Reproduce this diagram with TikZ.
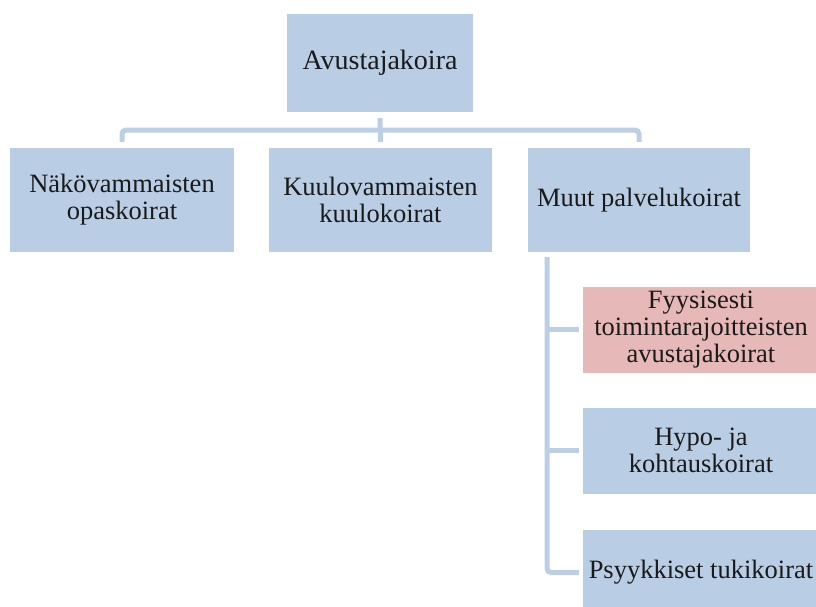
\documentclass[tikz,border=0pt]{standalone}
\usepackage{fontspec}
\setmainfont{Liberation Serif}
\definecolor{boxblue}{HTML}{B9CDE5}
\definecolor{boxpink}{HTML}{E6B9B8}
\definecolor{linec}{HTML}{BCCFE6}
\definecolor{txt}{HTML}{1A1A1A}
\begin{document}
\begin{tikzpicture}[x=1pt,y=-1pt,
  box/.style={rectangle, fill=boxblue, draw=none, inner sep=0pt, align=center, text=txt,
    font=\fontsize{26.5}{27}\selectfont},
  lvl1/.style={box, minimum width=224pt, minimum height=104pt},
  child/.style={box, minimum width=236pt, minimum height=86pt},
  conn/.style={draw=linec, line width=5pt}]
\path[use as bounding box, clip] (0,0) rectangle (816,606);
\node[box, minimum width=186pt, minimum height=98pt, font=\fontsize{28}{28}\selectfont] (top) at (380,63) {Avustajakoira};
\node[lvl1] (b1) at (122,200) {Näkövammaisten\\opaskoirat};
\node[lvl1, minimum width=223pt] (b2) at (380.5,200) {Kuulovammaisten\\kuulokoirat};
\node[lvl1, minimum width=222pt] (b3) at (639,200) {Muut palvelukoirat};
\node[child, fill=boxpink] (c1) at (701,329.5) {Fyysisesti\\toimintarajoitteisten\\avustajakoirat};
\node[child] (c2) at (701,450.5) {Hypo- ja\\kohtauskoirat};
\node[child] (c3) at (701,572.5) {Psyykkiset tukikoirat};
\coordinate (bus) at (380,130);
\coordinate (trunk) at (547,257);
\draw[conn] ([yshift=-6pt]top.south) -- ([yshift=6pt]b2.north);
\draw[conn, rounded corners=4pt] ([yshift=6pt]b1.north) |- (bus) -| ([yshift=6pt]b3.north);
\draw[conn, rounded corners=4pt] (trunk) |- ([xshift=-4pt]c3.west);
\draw[conn] (trunk |- c1.west) -- ([xshift=-4pt]c1.west);
\draw[conn] (trunk |- c2.west) -- ([xshift=-4pt]c2.west);
\end{tikzpicture}
\end{document}
